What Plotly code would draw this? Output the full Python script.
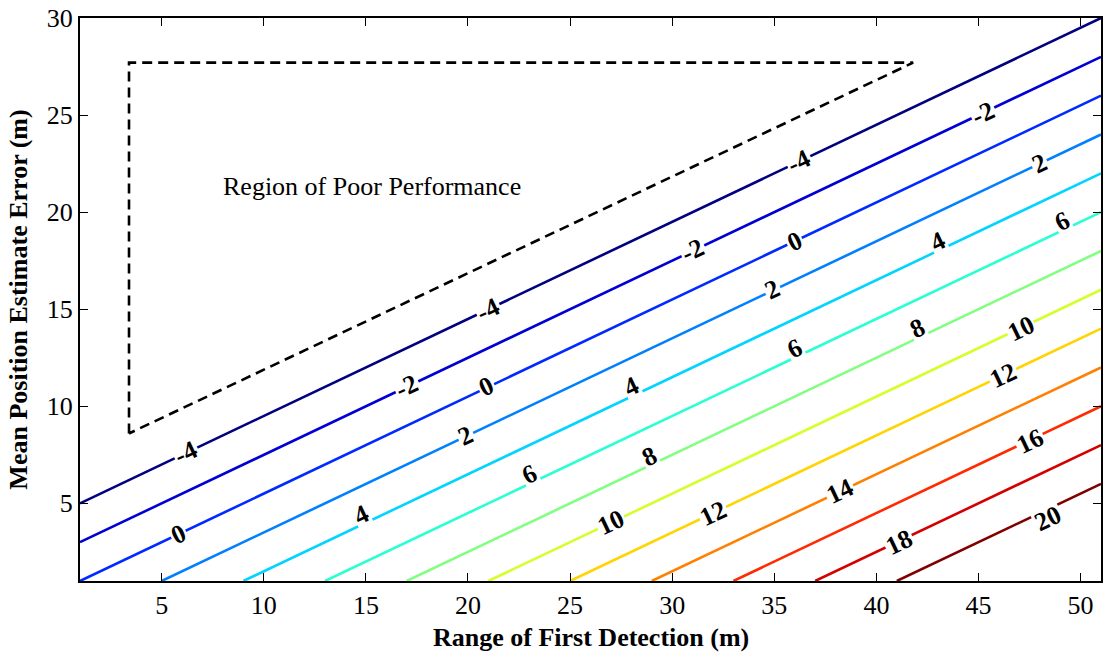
import plotly.graph_objects as go

# Contour levels and their colours (jet colormap)
levels = [-4, -2, 0, 2, 4, 6, 8, 10, 12, 14, 16, 18, 20]
colors = ["#000080", "#0000D4", "#002AFF", "#0080FF", "#00D4FF", "#2AFFD4",
          "#80FF80", "#D4FF2A", "#FFD400", "#FF8000", "#FF2A00", "#D40000", "#800000"]

# Endpoints of each contour line
line_x0 = [1, 1, 1, 5, 9, 13, 17, 21, 25, 29, 33, 37, 41]
line_y0 = [5, 3, 1, 1, 1, 1, 1, 1, 1, 1, 1, 1, 1]
line_x1 = [51, 51, 51, 51, 51, 51, 51, 51, 51, 51, 51, 51, 51]
line_y1 = [30, 28, 26, 24, 22, 20, 18, 16, 14, 12, 10, 8, 6]

# Contour label positions
label_text = ["-4", "-4", "-4", "-2", "-2", "-2", "0", "0", "0", "2", "2", "2",
              "4", "4", "4", "6", "6", "6", "8", "8", "10", "10", "12", "12",
              "14", "16", "18", "20"]
label_x = [6.2, 21.0, 36.2, 17.0, 31.0, 45.2, 5.8, 20.9, 36.0, 19.9, 34.9, 48.0,
           14.8, 28.0, 43.0, 23.0, 36.0, 49.1, 28.9, 42.0, 27.0, 47.1, 32.0, 46.2,
           38.2, 47.5, 41.1, 48.4]
label_y = [7.6, 15.0, 22.6, 11.0, 18.0, 25.1, 3.4, 11.0, 18.5, 8.5, 16.0, 22.5,
           4.4, 11.0, 18.5, 6.5, 13.0, 19.5, 7.4, 14.0, 4.0, 14.0, 4.5, 11.6,
           5.6, 8.2, 3.0, 4.2]

x_ticks = [5, 10, 15, 20, 25, 30, 35, 40, 45, 50]
y_ticks = [5, 10, 15, 20, 25, 30]

# Region of poor performance outline
region_x = [3.4, 3.4, 41.8, 3.4]
region_y = [8.6, 27.7, 27.7, 8.6]

FONT = "Times New Roman, Liberation Serif, serif"

fig = go.Figure()
for lv, c, x0, y0, x1, y1 in zip(levels, colors, line_x0, line_y0, line_x1, line_y1):
    fig.add_trace(go.Scatter(x=[x0, x1], y=[y0, y1], mode="lines",
                             line=dict(color=c, width=2.6), showlegend=False,
                             hoverinfo="skip"))

fig.add_trace(go.Scatter(x=region_x, y=region_y, mode="lines",
                         line=dict(color="black", width=2.6, dash="10px,6px"),
                         showlegend=False, hoverinfo="skip"))

for t, x, y in zip(label_text, label_x, label_y):
    fig.add_annotation(x=x, y=y, text="<b>" + t + "</b>", showarrow=False, textangle=-25.4,
                       bgcolor="white", borderpad=1,
                       font=dict(family=FONT, size=26, color="black"))

fig.add_annotation(x=15.3, y=21.3, text="Region of Poor Performance", showarrow=False,
                   font=dict(family=FONT, size=26, color="black"))

# Axis titles
fig.add_annotation(xref="paper", yref="paper", x=-0.0606, y=0.5, textangle=-90,
                   text="<b>Mean Position Estimate Error (m)</b>", showarrow=False,
                   xanchor="center", yanchor="middle",
                   font=dict(family=FONT, size=26, color="black"))
fig.add_annotation(xref="paper", yref="paper", x=0.5, y=-0.0995,
                   text="<b>Range of First Detection (m)</b>", showarrow=False,
                   xanchor="center", yanchor="middle",
                   font=dict(family=FONT, size=26, color="black"))

axis_common = dict(showgrid=False, zeroline=False, showline=True, linecolor="black",
                   linewidth=2, mirror="ticks", ticks="inside", ticklen=8,
                   tickwidth=1, tickcolor="black",
                   tickfont=dict(family=FONT, size=26, color="black"))

fig.update_xaxes(range=[1, 51], tickvals=x_ticks, **axis_common)
fig.update_yaxes(range=[1, 30], tickvals=y_ticks, **axis_common)

fig.update_layout(width=1104, height=655, plot_bgcolor="white", paper_bgcolor="white",
                  margin=dict(l=80, r=1, t=18, b=74))

fig.write_html("out.html")
